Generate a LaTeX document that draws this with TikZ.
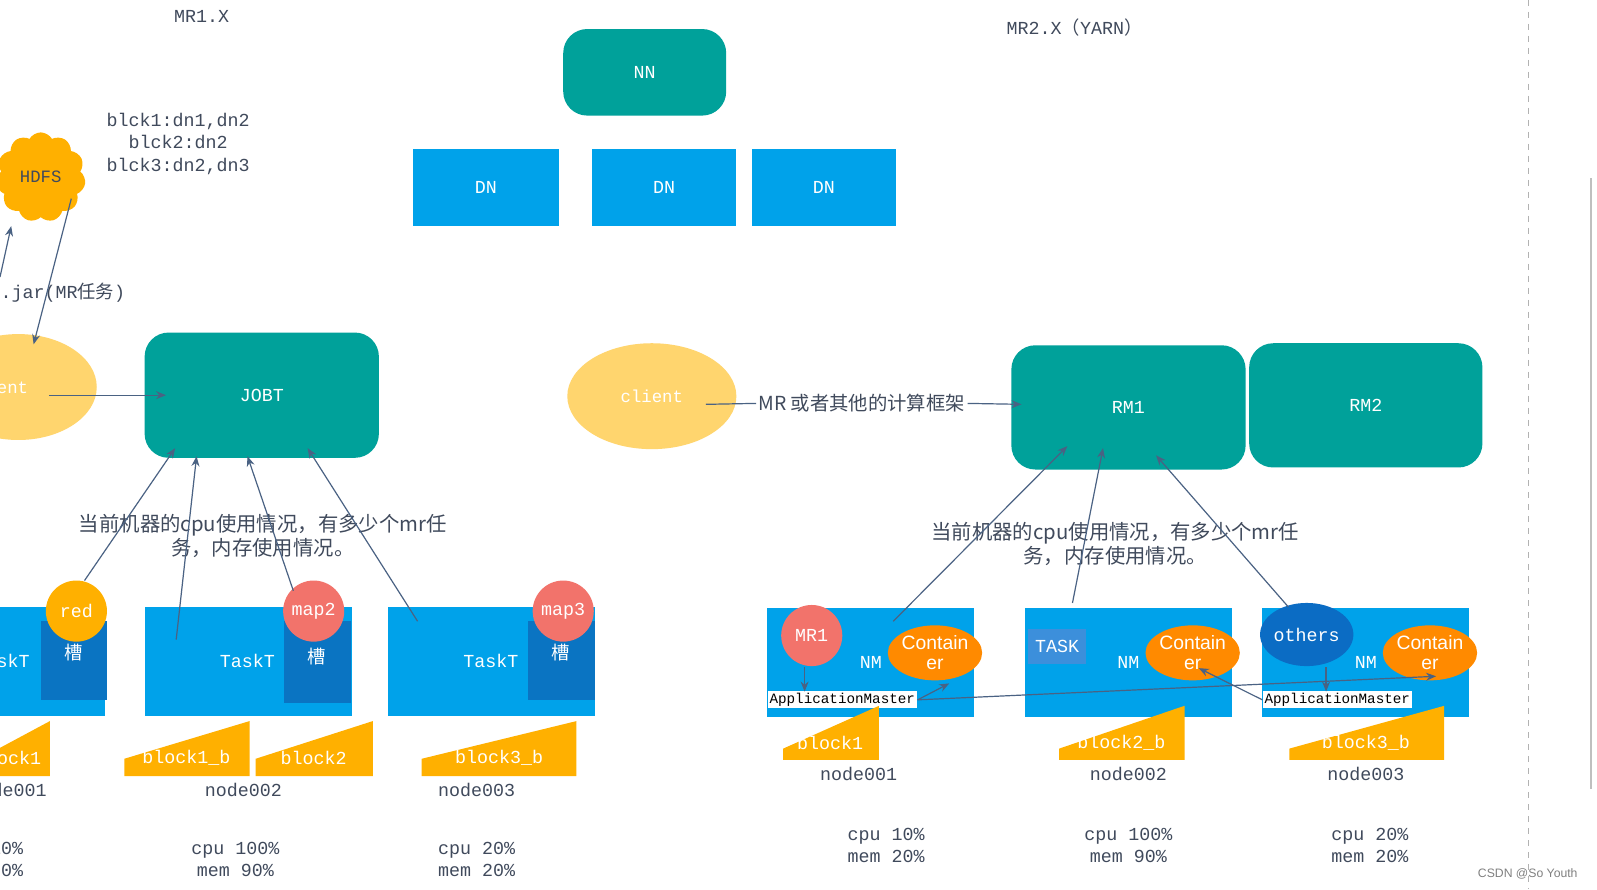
\documentclass[tikz,border=0pt]{standalone}
\usepackage{fontspec}
\setmainfont{Liberation Mono}
\newfontfamily\cjk{Noto Sans CJK SC}
\newfontfamily\sans{Liberation Sans}
\usetikzlibrary{arrows.meta,shapes.symbols,shapes.geometric}
\definecolor{teal1}{HTML}{00A19A}
\definecolor{blue1}{HTML}{00A2EA}
\definecolor{blue2}{HTML}{0A74C2}
\definecolor{blue3}{HTML}{3C8FDB}
\definecolor{blue4}{HTML}{0B6CC4}
\definecolor{org1}{HTML}{FFB000}
\definecolor{org2}{HTML}{FF8A00}
\definecolor{sal}{HTML}{F2736B}
\definecolor{yel}{HTML}{FFD56E}
\definecolor{ln}{HTML}{4A6283}
\definecolor{txt}{HTML}{404A5C}
\tikzset{
  tealbox/.style={fill=teal1,rounded corners=12pt,text=white,font=\fontsize{9}{10}\selectfont},
  bluebox/.style={fill=blue1,text=white,font=\fontsize{9}{10}\selectfont},
  lab/.style={text=txt,font=\fontsize{9}{11}\selectfont},
  clab/.style={text=txt,font=\cjk\fontsize{10}{12}\selectfont,align=center},
  arr/.style={draw=ln,line width=0.6pt,-{Stealth[length=5pt,width=4pt]}},
  ln/.style={draw=ln,line width=0.6pt},
  blk/.style={fill=org1},
  wt/.style={text=white,font=\fontsize{9}{10}\selectfont},
  cont/.style={ellipse,fill=org2,minimum width=40pt,minimum height=27pt,inner sep=0pt,text=white,align=center,font=\sans\fontsize{9.5}{10}\selectfont},
  am/.style={fill=white,inner sep=1pt,text=black,font=\fontsize{7}{8}\selectfont},
}
\begin{document}
\begin{tikzpicture}[x=0.5pt,y=-0.5pt,scale=1.0185,transform shape]
\useasboundingbox (0,0) rectangle (1568,873);
\begin{scope}
\clip (0,0) rectangle (1568,873);
\fill[white] (0,0) rectangle (1568,873);
\draw[gray!60,dashed] (1501,0) -- (1501,873);
\draw[gray!50,line width=0.8pt] (1562,175) -- (1562,775);
% titles
\node[lab] (t1) at (198,16) {MR1.X};
\node[lab] (t2) at (1055,27) {MR2.X{\cjk （}YARN{\cjk ）}};
% HDFS
\node[tealbox,minimum width=80pt,minimum height=42.5pt] (nn) at (633,71) {NN};
\node[bluebox,minimum width=71.5pt,minimum height=37.5pt] (dn1) at (477,184) {DN};
\node[bluebox,minimum width=70.5pt,minimum height=37.5pt] (dn2) at (652,184) {DN};
\node[bluebox,minimum width=71pt,minimum height=37.5pt] (dn3) at (809,184) {DN};
\node[cloud,cloud puffs=11,cloud puff arc=120,fill=org1,minimum width=44pt,minimum height=44pt,aspect=1,text=txt,font=\fontsize{8.5}{10}\selectfont] (hdfs) at (40,174) {HDFS};
\node[lab,align=center] (bl) at (175,141) {blck1:dn1,dn2\\blck2:dn2\\blck3:dn2,dn3};
\node[lab,anchor=east] (jar) at (130,287) {abc.jar(MR{\cjk 任务})};
\coordinate (up1) at (0,272);
\coordinate (up2) at (11,222);
\draw[arr] (up1) -- (up2);
% client left
\node[ellipse,fill=yel,minimum width=77pt,minimum height=52pt] (cl1) at (18,380) {};
\node[text=white,font=\fontsize{8.5}{10}\selectfont] (cl1t) at (-3,380) {client};
\coordinate (h1) at (70,195);
\coordinate (h2) at (33,338);
\draw[arr] (h1) -- (h2);
\node[tealbox,minimum width=115pt,minimum height=61.5pt] (jobt) at (257,388) {JOBT};
\draw[arr] (48,388) -- (163,388);
\node[clab] (c1) at (258,526) {当前机器的cpu使用情况，有多少个mr任\\务，内存使用情况。};
% tasktrackers
\foreach \n/\x in {a/-100, b/142, c/381}{
  \node[bluebox,minimum width=101.5pt,minimum height=53.5pt,anchor=north west] (tt\n) at (\x,596) {};
}
\node[wt] at (2,649) {TaskT};
\node[wt] at (243,649) {TaskT};
\node[wt] at (482,649) {TaskT};
\fill[blue2] (40,610) rectangle (105,687);
\fill[blue2] (279,610) rectangle (345,690);
\fill[blue2] (518,610) rectangle (584,687);
\node[wt,font=\cjk\fontsize{9}{10}\selectfont] at (72,641) {槽};
\node[wt,font=\cjk\fontsize{9}{10}\selectfont] at (311,645) {槽};
\node[wt,font=\cjk\fontsize{9}{10}\selectfont] at (550,641) {槽};
\node[circle,fill=org1,minimum size=30pt,inner sep=0pt,wt] (red) at (75,600) {red};
\node[circle,fill=sal,minimum size=30pt,inner sep=0pt,wt] (map2) at (308,600) {map2};
\node[circle,fill=sal,minimum size=30pt,inner sep=0pt,wt] (map3) at (553,600) {map3};
\draw[arr] (83,570) -- (172,440);
\draw[arr] (173,628) -- (193,448);
\draw[arr] (288,580) -- (243,448);
\draw[arr] (410,610) -- (302,440);
% blocks left
\fill[blk] (-20,762) -- (-20,745) -- (49,708) -- (49,762) -- cycle;
\fill[blk] (122,762) -- (122,745) -- (245,708) -- (245,762) -- cycle;
\fill[blk] (251,762) -- (251,745) -- (366,708) -- (366,762) -- cycle;
\fill[blk] (414,762) -- (414,745) -- (566,708) -- (566,762) -- cycle;
\node[wt] at (8,744) {block1};
\node[wt] at (183,744) {block1\_b};
\node[wt] at (308,744) {block2};
\node[wt] at (490,744) {block3\_b};
\node[lab] (n1) at (8,776) {node001};
\node[lab] (n2) at (239,776) {node002};
\node[lab] (n3) at (468,776) {node003};
\node[lab,align=center] at (-15,844) {cpu 10\%\\mem 20\%};
\node[lab,align=center] at (231,844) {cpu 100\%\\mem 90\%};
\node[lab,align=center] at (468,844) {cpu 20\%\\mem 20\%};
% right side
\node[ellipse,fill=yel,minimum width=83pt,minimum height=52pt,text=white,font=\fontsize{8.5}{10}\selectfont] (cl2) at (640,389) {client};
\node[lab,font=\cjk\fontsize{9.5}{10}\selectfont,inner sep=1pt] (mr) at (846,396) {MR 或者其他的计算框架};
\node[tealbox,minimum width=115pt,minimum height=61pt] (rm1) at (1108,400) {RM1};
\node[tealbox,minimum width=114.5pt,minimum height=61pt] (rm2) at (1341,398) {RM2};
\draw[ln] (693,397) -- (mr.west);
\draw[arr] (mr.east) -- (1003,397);
\node[clab] (c2) at (1095,534) {当前机器的cpu使用情况，有多少个mr任\\务，内存使用情况。};
\node[bluebox,minimum width=101.5pt,minimum height=53.5pt] (nm1) at (855,650) {};
\node[bluebox,minimum width=101.5pt,minimum height=53.5pt] (nm2) at (1108,650) {};
\node[bluebox,minimum width=101.5pt,minimum height=53.5pt] (nm3) at (1341,650) {};
\node[wt] at (855,650) {NM};
\node[wt] at (1108,650) {NM};
\node[wt] at (1341,650) {NM};
\node[fill=blue3,minimum width=28pt,minimum height=17pt,wt] (task) at (1038,635) {TASK};
\node[circle,fill=sal,minimum size=30pt,inner sep=0pt,wt] (mr1) at (797,624) {MR1};
\node[ellipse,fill=blue4,minimum width=43pt,minimum height=31pt,inner sep=0pt,wt] (oth) at (1283,623) {others};
\node[cont] (ct1) at (918,641) {Contain\\er};
\node[cont] (ct2) at (1171,641) {Contain\\er};
\node[cont] (ct3) at (1404,641) {Contain\\er};
\node[am] (am1) at (827,687) {ApplicationMaster};
\node[am] (am3) at (1313,687) {ApplicationMaster};
\draw[arr] (877,610) -- (1048,438);
\draw[arr] (1053,592) -- (1083,440);
\draw[arr] (1265,596) -- (1135,447);
\draw[arr] (790,655) -- (790,679);
\draw[arr] (1302,655) -- (1302,679);
\draw[arr] (am1.east) -- (932,671);
\draw[arr] (am1.east) -- (1410,664);
\draw[arr] (am3.west) -- (1177,656);
\fill[blk] (769,746) -- (769,735) -- (863,693) -- (863,746) -- cycle;
\fill[blk] (1040,746) -- (1040,735) -- (1163,693) -- (1163,746) -- cycle;
\fill[blk] (1266,746) -- (1266,735) -- (1418,693) -- (1418,746) -- cycle;
\node[wt] at (815,729) {block1};
\node[wt] at (1101,729) {block2\_b};
\node[wt] at (1341,729) {block3\_b};
\node[lab] at (843,760) {node001};
\node[lab] at (1108,760) {node002};
\node[lab] at (1341,760) {node003};
\node[lab,align=center] at (870,830) {cpu 10\%\\mem 20\%};
\node[lab,align=center] at (1108,830) {cpu 100\%\\mem 90\%};
\node[lab,align=center] at (1345,830) {cpu 20\%\\mem 20\%};
\node[text=gray,font=\sans\fontsize{6}{7}\selectfont] at (1500,858) {CSDN @So Youth};
\end{scope}
\end{tikzpicture}
\end{document}
